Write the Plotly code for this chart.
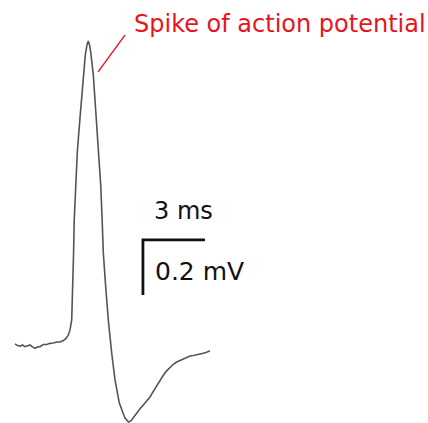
import plotly.graph_objects as go

# Extracellular recording of a single action potential (time in ms, voltage in mV,
# relative to the resting baseline)
time_ms = [
    0.000, 0.121, 0.242, 0.363, 0.484, 0.605, 0.726, 0.847, 0.968, 1.089,
    1.210, 1.369, 1.534, 1.694, 1.853, 2.018, 2.177, 2.337, 2.468, 2.579,
    2.661, 2.744, 2.797, 2.835, 2.864, 2.927, 3.015, 3.145, 3.276, 3.402,
    3.484, 3.547, 3.605, 3.663, 3.789, 3.919, 4.031, 4.147, 4.219, 4.273,
    4.389, 4.514, 4.679, 4.839, 5.047, 5.322, 5.492, 5.613, 5.750, 5.889,
    6.050, 6.208, 6.370, 6.532, 6.700, 6.856, 7.010, 7.176, 7.340, 7.500,
    7.660, 7.824, 7.980, 8.143, 8.300, 8.468, 8.630, 8.792, 8.950, 9.111,
    9.270, 9.435,
]
voltage_mv = [
    0.004, -0.002, -0.004, 0.000, -0.006, -0.004, 0.000, -0.007, -0.012, -0.007,
    -0.006, 0.002, 0.002, 0.006, 0.007, 0.011, 0.011, 0.016, 0.024, 0.036,
    0.055, 0.091, 0.211, 0.335, 0.451, 0.582, 0.702, 0.826, 0.946, 1.055,
    1.091, 1.105, 1.091, 1.066, 0.982, 0.826, 0.702, 0.582, 0.451, 0.335,
    0.211, 0.091, -0.029, -0.127, -0.211, -0.266, -0.280, -0.276, -0.262, -0.247,
    -0.232, -0.218, -0.203, -0.189, -0.168, -0.148, -0.128, -0.110, -0.094, -0.080,
    -0.070, -0.062, -0.056, -0.051, -0.045, -0.040, -0.038, -0.036, -0.034, -0.030,
    -0.026, -0.021,
]

# Scale bar
bar_origin_ms = 6.19
bar_origin_mv = 0.382
bar_len_ms = 3
bar_len_mv = 0.2

# Annotation pointing at the spike
spike_label = "Spike of action potential"
pointer_ms = [4.02, 5.32]
pointer_mv = [0.993, 1.127]

fig = go.Figure()

fig.add_trace(go.Scatter(
    x=time_ms, y=voltage_mv, mode="lines",
    line=dict(color="#555555", width=1.6),
    hoverinfo="skip",
))

fig.add_trace(go.Scatter(
    x=[bar_origin_ms + bar_len_ms, bar_origin_ms, bar_origin_ms],
    y=[bar_origin_mv, bar_origin_mv, bar_origin_mv - bar_len_mv],
    mode="lines", line=dict(color="#111111", width=2.8),
    hoverinfo="skip",
))

fig.add_trace(go.Scatter(
    x=pointer_ms, y=pointer_mv, mode="lines",
    line=dict(color="#e8141e", width=1.4),
    hoverinfo="skip",
))

font_family = "DejaVu Sans"
fig.add_annotation(
    x=bar_origin_ms + 0.44, y=bar_origin_mv + 0.105,
    text=f"{bar_len_ms} ms", showarrow=False,
    xanchor="left", yanchor="middle",
    font=dict(family=font_family, size=24, color="#111111"),
)
fig.add_annotation(
    x=bar_origin_ms + 0.48, y=bar_origin_mv - 0.115,
    text=f"{bar_len_mv} mV", showarrow=False,
    xanchor="left", yanchor="middle",
    font=dict(family=font_family, size=25, color="#111111"),
)
fig.add_annotation(
    x=pointer_ms[1] + 0.34, y=1.167,
    text=spike_label, showarrow=False,
    xanchor="left", yanchor="middle",
    font=dict(family=font_family, size=24, color="#e8141e"),
)

fig.update_layout(
    width=428, height=423,
    margin=dict(l=0, r=0, t=0, b=0),
    paper_bgcolor="white", plot_bgcolor="white",
    showlegend=False,
    xaxis=dict(range=[-0.726, 19.984], visible=False, fixedrange=True),
    yaxis=dict(range=[-0.2836, 1.2545], visible=False, fixedrange=True),
)

fig.write_html("out.html", config={"displayModeBar": False})
